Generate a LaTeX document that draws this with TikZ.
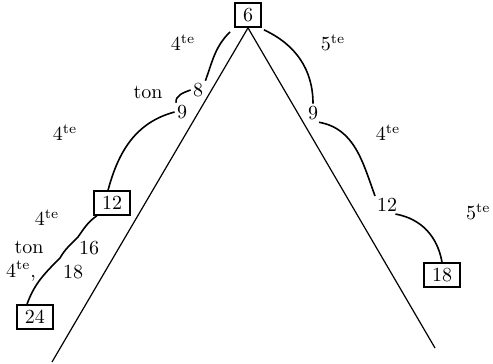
\documentclass[tikz,border=0pt]{standalone}
\usepackage{amsmath, amssymb}

\begin{document}
\begin{tikzpicture}[x=0.5pt,y=0.5pt,
  ton/.style={draw,line width=1pt,inner xsep=4pt,inner ysep=2.5pt},
  zahl/.style={inner sep=1pt},
  klein/.style={font=\normalsize,inner sep=1pt}]
\useasboundingbox (0,0) rectangle (493,364);
% Spitze und Schenkel
\node[ton] (n6) at (248,349) {6};
\coordinate (lfuss) at (52,2);
\coordinate (rfuss) at (435,16);
\draw[semithick] (n6.south) -- (lfuss);
\draw[semithick] (n6.south) -- (rfuss);

% linker Zweig
\node[klein] (q1) at (183,321) {4\textsuperscript{te}};
\node[zahl] (n8) at (198,274) {8};
\node[klein] (t1) at (148,272) {ton};
\node[zahl] (n9) at (182,252) {9};
\node[klein] (q2) at (65,231) {4\textsuperscript{te}};
\node[ton] (n12) at (112,161) {12};
\node[klein] (q3) at (47,146) {4\textsuperscript{te}};
\node[zahl] (n16) at (89,116) {16};
\node[klein] (t2) at (29,117) {ton};
\node[klein] (q4) at (21,93) {4\textsuperscript{te},};
\node[zahl] (n18) at (73,92) {18};
\node[ton] (n24) at (35,47) {24};
\coordinate (k1) at (78,127);
\coordinate (k2) at (60,106);
\draw[thick] (n6.south west) ++(-4,-4) to[out=225,in=70] (n8.north east);
\draw[thick] (n8.west) to[out=200,in=95] ([xshift=-3pt]n9.north);
\draw[thick] (n9.west) to[out=195,in=75] ([xshift=-2pt]n12.north);
\draw[thick] (n12.south west) ++(4,0) to[out=215,in=55] (k1) to[out=225,in=60] (k2) to[out=225,in=70] ([xshift=-4pt]n24.north);

% rechter Zweig
\node[klein] (q5) at (333,321) {5\textsuperscript{te}};
\node[zahl] (n9r) at (313,251) {9};
\node[klein] (q6) at (388,231) {4\textsuperscript{te}};
\node[zahl] (n12r) at (387,159) {12};
\node[klein,anchor=east] (q7) at (493,152) {5\textsuperscript{te}};
\node[ton] (n18r) at (442,89) {18};
\draw[thick] (n6.south east) ++(2,-2) to[out=-25,in=90] (n9r.north);
\draw[thick] ([xshift=3pt]n9r.south) to[out=-10,in=110] ([xshift=-6pt]n12r.north);
\draw[thick] ([xshift=-2pt]n12r.south east) to[out=-10,in=100] (n18r.north);
\end{tikzpicture}
\end{document}
